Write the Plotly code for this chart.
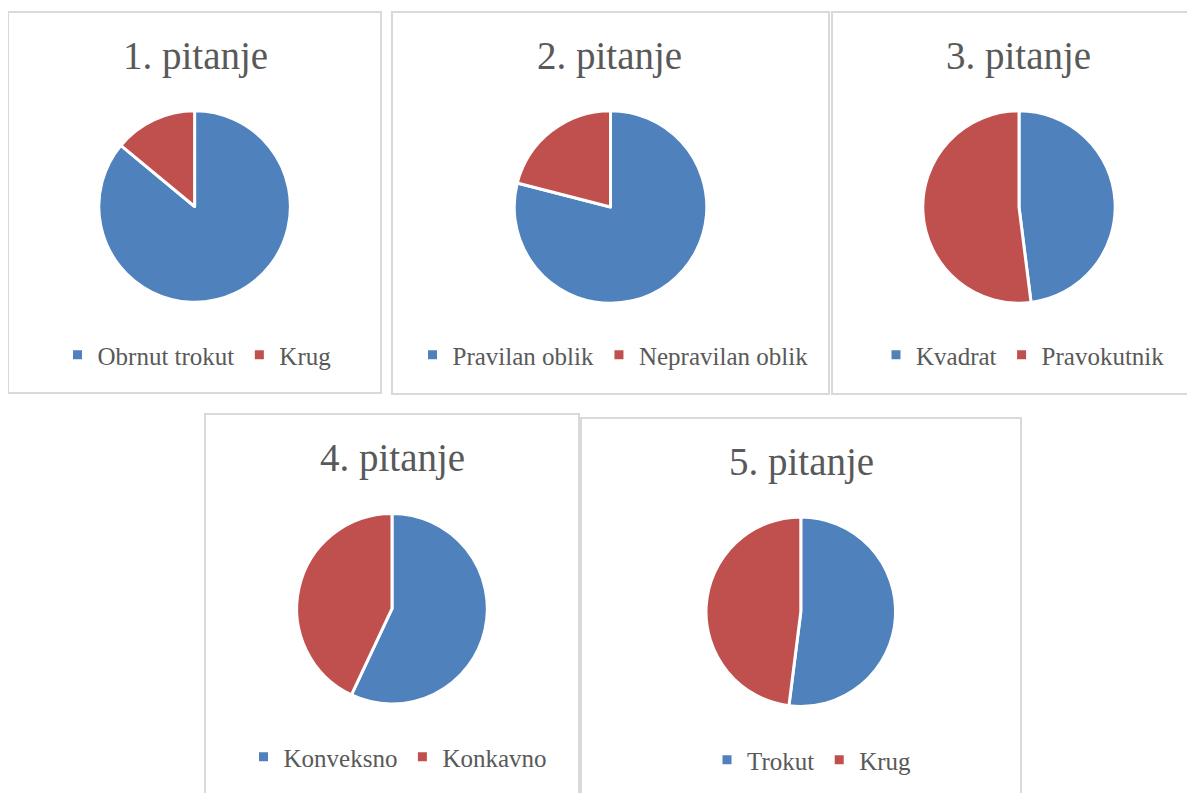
import plotly.graph_objects as go

# page body has an 8px margin; the figure is sized to the visible area
OFF = 8
W, H = 1195 - OFF, 793 - OFF

# ---- data ----
titles = ["1. pitanje", "2. pitanje", "3. pitanje", "4. pitanje", "5. pitanje"]
labels_1 = ["Obrnut trokut", "Krug"]
values_1 = [86, 14]
labels_2 = ["Pravilan oblik", "Nepravilan oblik"]
values_2 = [79, 21]
labels_3 = ["Kvadrat", "Pravokutnik"]
values_3 = [48, 52]
labels_4 = ["Konveksno", "Konkavno"]
values_4 = [57, 43]
labels_5 = ["Trokut", "Krug"]
values_5 = [52, 48]

all_labels = [labels_1, labels_2, labels_3, labels_4, labels_5]
all_values = [values_1, values_2, values_3, values_4, values_5]

# ---- layout (pixel geometry in screenshot coordinates) ----
BLUE, RED = "#4F81BD", "#C0504D"
FONT = "Liberation Serif"
TXT = "#595959"

panels = [(8, 12, 381, 393), (392, 12, 829, 394), (832, 12, 1193, 394),
          (205, 414, 579, 830), (581, 418, 1021, 830)]
pie_geo = [(194.6, 206.5, 95.8), (610.5, 207, 96.3), (1019, 207, 96.2),
           (392, 608.7, 95.3), (800.8, 611.7, 94.8)]
title_pos = [(195, 56), (610, 56), (1019, 56), (392, 458), (801, 462)]
legend_pos = [(197, 355), (613, 355), (1023, 355), (398, 757), (812, 760)]


def px(x):
    return (x - OFF) / W


def py(y):
    return 1 - (y - OFF) / H


fig = go.Figure()
shapes = []
annotations = []
layout_legends = {}

for i in range(5):
    cx, cy, r = pie_geo[i]
    lname = "legend" if i == 0 else f"legend{i + 1}"
    fig.add_trace(go.Pie(
        labels=all_labels[i],
        values=all_values[i],
        sort=False,
        direction="clockwise",
        rotation=0,
        textinfo="none",
        hoverinfo="label+value",
        marker=dict(colors=[BLUE, RED], line=dict(color="white", width=3)),
        domain=dict(x=[px(cx - r), px(cx + r)], y=[py(cy + r), py(cy - r)]),
        legend=lname,
        legendgroup=f"g{i}",
        showlegend=True,
    ))
    x0, y0, x1, y1 = panels[i]
    shapes.append(dict(type="rect", xref="paper", yref="paper",
                       x0=px(x0), x1=px(x1), y0=py(y0), y1=py(y1),
                       line=dict(color="#D9D9D9", width=2), layer="below"))
    tx, ty = title_pos[i]
    annotations.append(dict(text=titles[i], x=px(tx), y=py(ty), xref="paper", yref="paper",
                            xanchor="center", yanchor="middle", showarrow=False,
                            font=dict(family=FONT, size=39, color=TXT)))
    lx, ly = legend_pos[i]
    layout_legends[lname] = dict(
        x=px(lx), y=py(ly), xanchor="center", yanchor="middle",
        orientation="h", font=dict(family=FONT, size=25, color=TXT),
        bgcolor="rgba(0,0,0,0)", borderwidth=0, itemwidth=30,
        traceorder="normal",
    )

fig.update_layout(
    width=W, height=H,
    margin=dict(l=0, r=0, t=0, b=0),
    paper_bgcolor="white",
    plot_bgcolor="white",
    shapes=shapes,
    annotations=annotations,
    **layout_legends,
)

fig.write_html("out.html")
